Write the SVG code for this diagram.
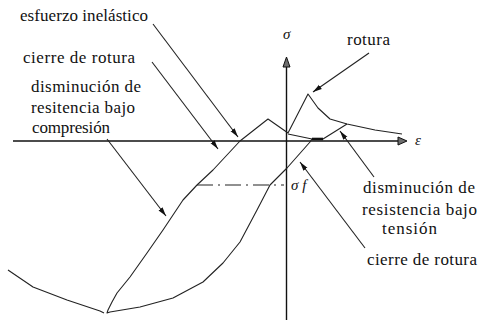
<svg xmlns="http://www.w3.org/2000/svg" width="479" height="320" viewBox="0 0 479 320" font-family="Liberation Serif, DejaVu Serif, serif" font-size="17">
<style>
.t{fill:#111}
.sym{font-style:italic}
.curve{fill:none;stroke:#222;stroke-width:1.1;stroke-linejoin:round}
.axis{fill:none;stroke:#111;stroke-width:1.4}
.lead{fill:none;stroke:#222;stroke-width:1.1;marker-end:url(#ah)}
.dd{fill:none;stroke:#222;stroke-width:1.1;stroke-dasharray:16,5,2,5}
.axhead{fill:#6e6e6e;stroke:#111;stroke-width:1}
</style>
<defs>
<marker id="ah" viewBox="0 0 9 6" refX="9" refY="3" markerWidth="9" markerHeight="6" markerUnits="userSpaceOnUse" orient="auto">
<path d="M0,0.5 L9,3 L0,5.5 z" fill="#111"/>
</marker>
</defs>
<rect width="479" height="320" fill="#fff"/>
<g id="axes">
<line class="axis" x1="13" y1="141" x2="400" y2="141"/>
<polygon class="axhead" points="407,141 398,137 398,145"/>
<line class="axis" x1="286.5" y1="66" x2="286.5" y2="320"/>
<polygon class="axhead" points="286.5,57 283,67 290,67"/>
</g>
<g id="curves">
<polyline class="curve" points="8,270 33,287 67,300 100,311 104,313"/>
<polyline class="curve" points="402,134 375,130 347,124 330,119 318,108 308,94 288,133 268,119 240,141 213,170 197,185 183,200 163,230 147,253 130,277 117,293 112,302 108,310 107,313 110,312 140,307 173,298 203,282 223,263 240,242 257,210 270,185 287,168 310,142 312,139"/>
<polyline class="curve" points="288,134 312,139 323,139 347,124"/>
<line x1="312" y1="139" x2="323" y2="139" stroke="#111" stroke-width="2.6"/>
<line class="dd" x1="197" y1="185" x2="284" y2="185"/>
</g>
<g id="connectors">
<line class="lead" x1="153" y1="24" x2="238" y2="137"/>
<line class="lead" x1="152" y1="62" x2="218" y2="149"/>
<line class="lead" x1="107" y1="139" x2="166" y2="216"/>
<line class="lead" x1="369" y1="53" x2="313" y2="92"/>
<line class="lead" x1="374" y1="177" x2="340" y2="131"/>
<line class="lead" x1="365" y1="248" x2="300" y2="162"/>
</g>
<g id="label-sigma"><text class="t sym" x="283" y="39" font-size="15">σ</text></g>
<g id="label-epsilon"><text class="t sym" x="415" y="145" font-size="15">ε</text></g>
<g id="label-sigmaf"><text class="t sym" x="291" y="190" font-size="15">σ f</text></g>
<g id="label-esfuerzo"><text class="t" x="20" y="21" textLength="128" lengthAdjust="spacing">esfuerzo inelástico</text></g>
<g id="label-cierre-left"><text class="t" x="23" y="63" textLength="112" lengthAdjust="spacing">cierre de rotura</text></g>
<g id="label-compresion">
<text class="t" x="31" y="92" textLength="110" lengthAdjust="spacing">disminución de</text>
<text class="t" x="31" y="113" textLength="104" lengthAdjust="spacing">resitencia bajo</text>
<text class="t" x="32" y="133" textLength="78" lengthAdjust="spacing">compresión</text>
</g>
<g id="label-rotura"><text class="t" x="347" y="45" textLength="43" lengthAdjust="spacing">rotura</text></g>
<g id="label-tension">
<text class="t" x="363" y="193" textLength="112" lengthAdjust="spacing">disminución de</text>
<text class="t" x="362" y="215" textLength="115" lengthAdjust="spacing">resistencia bajo</text>
<text class="t" x="382" y="234" textLength="55" lengthAdjust="spacing">tensión</text>
</g>
<g id="label-cierre-right"><text class="t" x="367" y="265" textLength="110" lengthAdjust="spacing">cierre de rotura</text></g>
</svg>
